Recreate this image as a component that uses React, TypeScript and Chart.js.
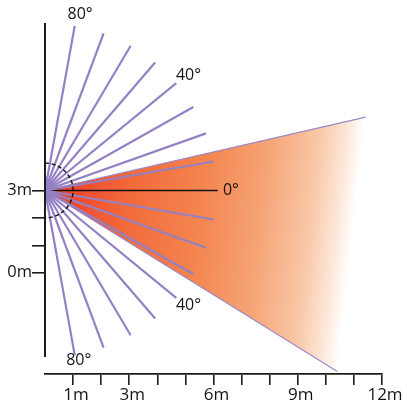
import React, { useEffect, useRef } from "react";
import { Chart, registerables } from "chart.js";

Chart.register(...registerables);

// ---------- data ----------
const xTickValues = [1, 2, 3, 4, 5, 6, 7, 8, 9, 10, 11, 12];
const xTickLabels = ["1m", "", "3m", "", "", "6m", "", "", "9m", "", "", "12m"];
const yTickValues = [0, 1, 2, 3];
const yTickLabels = ["0m", "", "", "3m"];
const sensorHeight = 3; // metres, where the sensor sits on the wall
const rayAngles = [80, 70, 60, 50, 40, 30, 20, 10, -10, -20, -30, -40, -50, -60, -70, -80];
const rayLength = 6.1; // metres
const zeroLineLength = 6.15; // metres
const coneAngles = [13.2, -32.4]; // degrees, upper / lower edge of detection zone
const coneRanges = [11.73, 12.33]; // metres along each edge
const angleLabelAngles = [79, 39.5, 0, -39.5, -79];
const angleLabelTexts = ["80°", "40°", "0°", "40°", "80°"];
const nearZoneRadius = 1; // metres
const wallSpan = [-3.08, 9.11]; // metres, drawn extent of the wall line
const xRange = [0, 12];
const yRange = [-3.697, 9.588];

const polar = (deg: number, r: number) => {
  const a = (deg * Math.PI) / 180;
  return { x: r * Math.cos(a), y: sensorHeight + r * Math.sin(a) };
};

const FONT = '"Open Sans", "DejaVu Sans", sans-serif';
const origin = { x: 0, y: sensorHeight };

const overlayPlugin = {
  id: "overlay",
  afterDatasetsDraw(chart: any) {
    const { ctx } = chart;
    const xs = chart.scales.x;
    const ys = chart.scales.y;
    const cx = xs.getPixelForValue(0);
    const cy = ys.getPixelForValue(sensorHeight);
    const rx = xs.getPixelForValue(nearZoneRadius) - cx;
    const ry = cy - ys.getPixelForValue(sensorHeight + nearZoneRadius);
    ctx.save();
    ctx.beginPath();
    ctx.setLineDash([4, 2.6]);
    ctx.strokeStyle = "#151515";
    ctx.lineWidth = 1.5;
    ctx.ellipse(cx, cy, rx, ry, 0, -Math.PI / 2, Math.PI / 2);
    ctx.stroke();
    ctx.setLineDash([]);
    const labelRadius = [6.55, 6.62, 6.62, 6.62, 6.3];
    ctx.font = `16px ${FONT}`;
    ctx.fillStyle = "#151515";
    ctx.textAlign = "center";
    ctx.textBaseline = "middle";
    angleLabelAngles.forEach((a, i) => {
      const p = polar(a, labelRadius[i]);
      ctx.fillText(angleLabelTexts[i], xs.getPixelForValue(p.x), ys.getPixelForValue(p.y));
    });
    ctx.restore();
  },
};

export default function App() {
  const ref = useRef<HTMLCanvasElement | null>(null);

  useEffect(() => {
    if (!ref.current) return;
    const coneTop = polar(coneAngles[0], coneRanges[0]);
    const coneBottom = polar(coneAngles[1], coneRanges[1]);

    const coneGradient = (context: any) => {
      const chart = context.chart;
      if (!chart.chartArea) return "rgba(240,90,50,0.8)";
      const xs = chart.scales.x;
      const ys = chart.scales.y;
      const ox = xs.getPixelForValue(origin.x);
      const oy = ys.getPixelForValue(origin.y);
      const tx = xs.getPixelForValue(coneTop.x);
      const ty = ys.getPixelForValue(coneTop.y);
      const bx = xs.getPixelForValue(coneBottom.x);
      const by = ys.getPixelForValue(coneBottom.y);
      // gradient runs perpendicular to the far edge
      let dx = bx - tx;
      let dy = by - ty;
      const len = Math.hypot(dx, dy);
      let nx = dy / len;
      let ny = -dx / len;
      const d = (tx - ox) * nx + (ty - oy) * ny;
      if (d < 0) {
        nx = -nx;
        ny = -ny;
      }
      const dist = Math.abs(d);
      const g = chart.ctx.createLinearGradient(ox, oy, ox + nx * dist, oy + ny * dist);
      g.addColorStop(0, "#ee3b27");
      g.addColorStop(0.12, "#f04d30");
      g.addColorStop(0.27, "#f26a3a");
      g.addColorStop(0.49, "#f4834d");
      g.addColorStop(0.69, "#f5a273");
      g.addColorStop(0.86, "#f9c8a8");
      g.addColorStop(0.95, "#fde9dc");
      g.addColorStop(1, "#ffffff");
      return g;
    };

    const base = { showLine: true, pointRadius: 0, pointHoverRadius: 0, tension: 0, clip: false as any };

    const datasets: any[] = [
      {
        ...base,
        label: "wall",
        data: [
          { x: 0, y: wallSpan[0] },
          { x: 0, y: wallSpan[1] },
        ],
        borderColor: "#1c1c1c",
        borderWidth: 2,
        order: 0,
      },
      ...rayAngles.map((a) => ({
        ...base,
        label: `ray ${a}`,
        data: [origin, polar(a, rayLength)],
        borderColor: "#9481c4",
        borderWidth: 2.2,
        order: 2,
      })),
      {
        ...base,
        label: "0°",
        data: [origin, polar(0, zeroLineLength)],
        borderColor: "#111111",
        borderWidth: 1.6,
        order: 3,
      },
      {
        ...base,
        label: "zone edges",
        data: [coneTop, origin, coneBottom],
        borderColor: "#9a88c8",
        borderWidth: 1.1,
        order: 4,
      },
      {
        ...base,
        label: "zone",
        data: [origin, coneTop, coneBottom],
        borderColor: "rgba(0,0,0,0)",
        borderWidth: 1,
        backgroundColor: coneGradient,
        fill: "shape",
        order: 5,
      },
    ];

    const chart = new Chart(ref.current, {
      type: "scatter",
      data: { datasets },
      options: {
        animation: false,
        responsive: true,
        maintainAspectRatio: false,
        events: [],
        layout: { padding: { left: 0, right: 25, top: 10, bottom: 0 } },
        plugins: { legend: { display: false }, tooltip: { enabled: false } },
        scales: {
          x: {
            type: "linear",
            position: "bottom",
            min: xRange[0],
            max: xRange[1],
            afterBuildTicks: (scale: any) => {
              scale.ticks = xTickValues.map((v) => ({ value: v }));
            },
            afterFit: (scale: any) => {
              scale.height = 29;
              scale.paddingLeft = 0;
              scale.paddingRight = 0;
            },
            ticks: {
              autoSkip: false,
              maxRotation: 0,
              padding: 0,
              labelOffset: 3,
              color: "#151515",
              font: { family: FONT, size: 17 },
              callback: (v: any) => {
                const i = xTickValues.indexOf(Number(v));
                return i >= 0 ? xTickLabels[i] : "";
              },
            },
            grid: {
              drawOnChartArea: false,
              drawTicks: true,
              tickLength: 11,
              color: "#1c1c1c",
              lineWidth: 1.6,
            },
            border: { display: true, color: "#1c1c1c", width: 1.8 },
          },
          y: {
            type: "linear",
            position: "left",
            min: yRange[0],
            max: yRange[1],
            afterBuildTicks: (scale: any) => {
              scale.ticks = yTickValues.map((v) => ({ value: v }));
            },
            afterFit: (scale: any) => {
              scale.width = 45;
              scale.paddingTop = 0;
              scale.paddingBottom = 0;
            },
            ticks: {
              autoSkip: false,
              padding: 0,
              color: "#151515",
              font: { family: FONT, size: 16.5 },
              callback: (v: any) => {
                const i = yTickValues.indexOf(Number(v));
                return i >= 0 ? yTickLabels[i] : "";
              },
            },
            grid: {
              drawOnChartArea: false,
              drawTicks: true,
              tickLength: 13,
              color: "#1c1c1c",
              lineWidth: 1.6,
            },
            border: { display: false },
          },
        },
      },
      plugins: [overlayPlugin],
    });

    return () => chart.destroy();
  }, []);

  return (
    <div style={{ position: "fixed", left: 0, top: 0, width: 407, height: 403, background: "#ffffff" }}>
      <canvas ref={ref} />
    </div>
  );
}
